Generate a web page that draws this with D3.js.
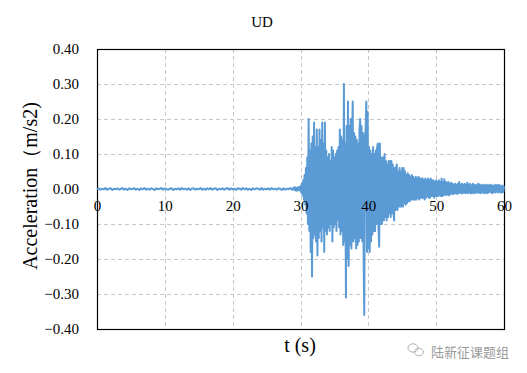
<!DOCTYPE html>
<html><head><meta charset="utf-8">
<script src="https://cdn.jsdelivr.net/npm/d3@7"></script>
<style>body{margin:0;background:#fff}svg{display:block}</style>
</head><body>
<svg id="c" width="527" height="373"></svg>
<script>
const title = "UD";
const xLabel = "t (s)";
const yLabel = "Acceleration（m/s2)";
const xTicks = [0, 10, 20, 30, 40, 50, 60];
const yTicks = [0.40, 0.30, 0.20, 0.10, 0.00, -0.10, -0.20, -0.30, -0.40];
// pre-event record, 0.0 s .. 28.75 s, every 0.25 s
const preStep = 0.25;
const preEvent = [0.000,0.002,-0.002,0.001,-0.001,0.003,-0.002,0.001,0.002,-0.003,
  0.001,-0.001,0.002,-0.002,0.000,0.003,-0.002,0.001,-0.003,0.002,
  -0.001,0.001,0.002,-0.002,0.001,-0.003,0.002,-0.001,0.003,-0.002,
  0.001,-0.002,0.002,0.000,-0.003,0.002,-0.001,0.001,0.003,-0.002,
  0.002,-0.001,-0.002,0.001,0.002,-0.003,0.001,-0.001,0.002,-0.002,
  0.003,-0.001,0.001,-0.002,0.002,-0.003,0.001,0.002,-0.002,0.001,
  -0.001,0.003,-0.002,0.001,-0.002,0.002,-0.001,0.003,-0.002,0.001,
  0.002,-0.003,0.001,-0.001,0.002,-0.002,0.001,0.003,-0.002,0.002,
  -0.001,0.001,-0.003,0.002,0.001,-0.002,0.003,-0.001,0.002,-0.002,
  0.001,-0.003,0.002,-0.001,0.002,0.001,-0.002,0.003,-0.002,0.001,
  -0.001,0.002,-0.002,0.003,-0.001,0.001,-0.002,0.002,0.001,-0.003,
  0.002,-0.002,0.001,-0.001,0.003,-0.002];
// main record, 29.0 s .. 60.0 s, every 0.1 s
const mainStart = 29.0, mainStep = 0.1;
const mainEvent = [
 0.004,-0.003,0.005,-0.004,0.003,-0.005,0.004,-0.003,0.006,-0.004,
 0.008,-0.010,0.015,-0.018,0.025,-0.030,0.040,-0.045,0.060,-0.070,
 0.090,-0.100,0.200,-0.120,0.110,-0.180,0.130,-0.250,0.150,-0.140,
 0.190,-0.130,0.120,-0.150,0.170,-0.190,0.120,-0.140,0.170,-0.120,
 0.140,-0.150,0.190,-0.110,0.130,-0.180,0.190,-0.120,0.110,-0.130,
 0.090,-0.110,0.100,-0.120,0.080,-0.100,0.120,-0.150,0.110,-0.110,
 0.090,-0.100,0.100,-0.120,0.110,-0.090,0.120,-0.110,0.170,-0.130,
 0.150,-0.120,0.140,-0.160,0.300,-0.150,0.130,-0.310,0.180,-0.200,
 0.250,-0.220,0.180,-0.160,0.200,-0.170,0.140,0.250,-0.150,0.160,
 -0.140,0.150,-0.170,0.140,-0.160,0.130,-0.150,0.170,0.200,-0.140,
 0.180,-0.150,0.160,-0.180,-0.360,0.150,0.170,0.250,-0.180,0.220,
 -0.170,0.120,-0.180,0.110,-0.150,0.100,-0.130,0.120,-0.120,0.100,
 -0.120,0.110,-0.100,0.120,0.130,-0.110,-0.165,0.130,-0.100,0.090,
 -0.100,0.090,0.090,-0.090,0.100,-0.080,0.080,-0.090,0.070,-0.080,
 0.080,-0.070,0.080,-0.080,0.080,-0.070,0.070,-0.060,-0.090,0.060,
 -0.060,0.060,0.070,-0.060,0.050,-0.050,0.060,-0.050,0.050,-0.050,
 0.060,-0.050,0.060,-0.040,0.050,-0.045,0.040,-0.040,0.045,-0.035,
 0.040,-0.035,0.035,-0.030,0.040,-0.030,0.035,-0.030,0.030,-0.030,
 0.035,-0.030,0.030,-0.025,0.035,-0.030,0.030,-0.025,0.030,-0.025,
 0.030,-0.025,0.025,-0.030,0.030,-0.025,0.025,-0.020,0.030,-0.025,
 0.025,-0.025,0.030,-0.020,0.025,-0.020,0.025,-0.025,0.020,-0.020,
 0.025,-0.020,0.020,-0.020,0.025,-0.018,0.020,-0.020,0.030,-0.020,
 0.020,-0.018,0.028,-0.015,0.020,-0.018,0.018,-0.015,0.020,-0.018,
 0.015,-0.015,0.018,-0.012,0.015,-0.015,0.012,-0.012,0.015,-0.012,
 0.012,-0.014,0.015,-0.012,0.020,-0.010,0.012,-0.012,0.015,-0.012,
 0.012,-0.010,0.015,-0.012,0.012,-0.010,0.018,-0.012,0.012,-0.010,
 0.015,-0.012,0.010,-0.012,0.015,-0.010,0.012,-0.012,0.010,-0.010,
 0.012,-0.010,0.015,-0.010,0.012,-0.012,0.010,-0.010,0.012,-0.010,
 0.010,-0.012,0.012,-0.010,0.010,-0.012,0.012,-0.010,0.010,-0.008,
 0.012,-0.010,0.010,-0.012,0.010,-0.008,0.010,-0.010,0.012,-0.008,
 0.010,-0.010,0.012,-0.008,0.010,-0.010,0.008,-0.010,0.010,-0.008,
 0.008];

const data = preEvent.map((v,i)=>({t:i*preStep, a:v}))
  .concat(mainEvent.map((v,i)=>({t:mainStart+i*mainStep, a:v})));

const svg = d3.select("#c");
const L = 97, R = 504, T = 49, B = 329;
const x = d3.scaleLinear().domain([0,60]).range([L,R]);
const y = d3.scaleLinear().domain([-0.4,0.4]).range([B,T]);
const serif = "'Liberation Serif','Times New Roman',serif";

// gridlines
svg.append("g").selectAll("line").data(yTicks.filter(v=>Math.abs(v)<0.39))
  .join("line").attr("x1",L).attr("x2",R)
  .attr("y1",d=>Math.round(y(d))+0.5).attr("y2",d=>Math.round(y(d))+0.5)
  .attr("stroke","#c8c8c8").attr("stroke-dasharray","4,3");
svg.append("g").selectAll("line").data(xTicks.filter(v=>v>0&&v<60))
  .join("line").attr("y1",T).attr("y2",B)
  .attr("x1",d=>Math.round(x(d))+0.5).attr("x2",d=>Math.round(x(d))+0.5)
  .attr("stroke","#c8c8c8").attr("stroke-dasharray","4,3");

// frame
svg.append("rect").attr("x",L+0.5).attr("y",T+0.5).attr("width",R-L).attr("height",B-T)
  .attr("fill","none").attr("stroke","#000").attr("stroke-width",1.2);

// data line
svg.append("path").datum(data)
  .attr("d", d3.line().x(d=>x(d.t)).y(d=>y(d.a)))
  .attr("fill","none").attr("stroke","#5b9bd5").attr("stroke-width",2)
  .attr("stroke-linejoin","round");

// y tick labels
const yAxis = d3.axisLeft(y).tickValues(yTicks).tickFormat(d3.format(".2f")).tickSize(0).tickPadding(18);
const gy = svg.append("g").attr("transform",`translate(${L},0)`).call(yAxis);
gy.select(".domain").remove();
gy.selectAll("text").attr("font-family",serif).attr("font-size",15).attr("fill","#000");

// x tick labels at the zero line
const xAxis = d3.axisBottom(x).tickValues(xTicks).tickFormat(d3.format("d")).tickSize(0).tickPadding(11);
const gx = svg.append("g").attr("transform",`translate(0,${y(0)})`).call(xAxis);
gx.select(".domain").remove();
gx.selectAll("text").attr("font-family",serif).attr("font-size",15).attr("fill","#000");

// titles
svg.append("text").attr("x",262).attr("y",27).attr("text-anchor","middle")
  .attr("font-family",serif).attr("font-size",15).text(title);
svg.append("text").attr("x",300).attr("y",352).attr("text-anchor","middle")
  .attr("font-family",serif).attr("font-size",20).text(xLabel);
svg.append("text").attr("transform","translate(37,186) rotate(-90)").attr("text-anchor","middle")
  .attr("font-family",serif).attr("font-size",20).text(yLabel);

// watermark
const wm = svg.append("g").attr("fill","none").attr("stroke","#b0b0b0").attr("stroke-width",1);
wm.append("ellipse").attr("cx",413).attr("cy",348).attr("rx",5).attr("ry",4.2);
wm.append("ellipse").attr("cx",419).attr("cy",352).attr("rx",4.5).attr("ry",3.8);
svg.append("text").attr("x",431).attr("y",357).attr("font-family","'Noto Sans CJK SC',sans-serif")
  .attr("font-size",13).attr("fill","#9a9a9a").text("陆新征课题组");
</script>
</body></html>
